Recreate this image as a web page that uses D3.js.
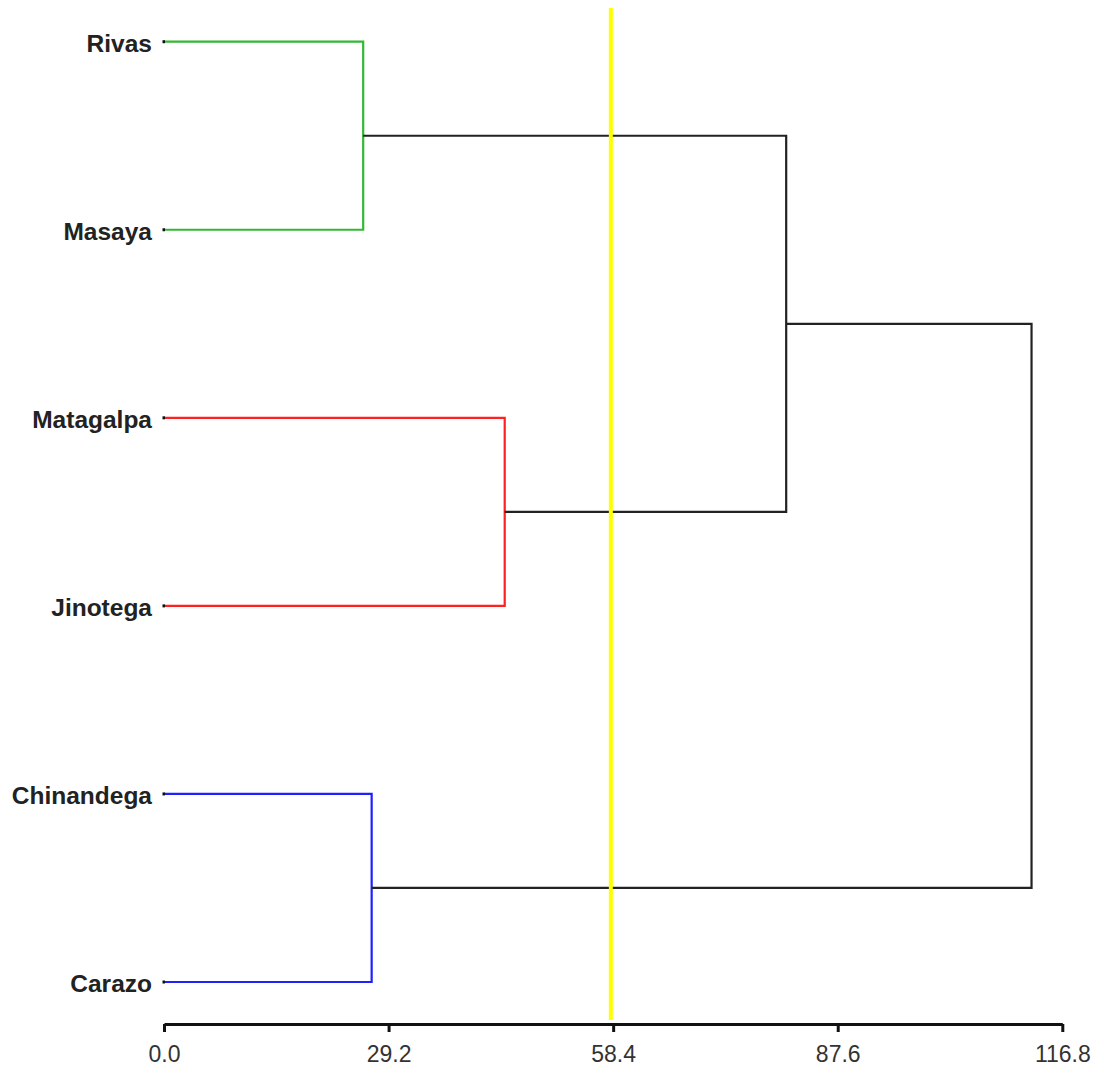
<!DOCTYPE html>
<html>
<head>
<meta charset="utf-8">
<script src="https://cdn.jsdelivr.net/npm/d3@7"></script>
<style>
  html, body { margin: 0; padding: 0; background: #fff; }
  svg { display: block; }
</style>
</head>
<body>
<svg id="chart" width="1104" height="1074"></svg>
<script>
// Leaf labels, top to bottom
const leaves = ["Rivas", "Masaya", "Matagalpa", "Jinotega", "Chinandega", "Carazo"];

// Merge steps: negative numbers are leaf indices (-1 = first leaf), positive refer to earlier merges
const mergeLeft   = [-1, -5, -3, 1, 4];
const mergeRight  = [-2, -6, -4, 3, 2];
const mergeHeight = [25.9, 27.0, 44.3, 80.9, 112.8];
// Colour of each merge (clusters below the cut get a colour)
const mergeColor  = ["#33b833", "#2020ff", "#ff2020", "#222222", "#222222"];

// Axis ticks and cut height
const tickValues = [0, 29.2, 58.4, 87.6, 116.8];
const cutHeight = 58.1;

const svg = d3.select("#chart");

const x = d3.scaleLinear().domain([0, 116.8]).range([164, 1062.3]);
const y = d3.scalePoint().domain(leaves).range([41.7, 982]);

// Compute node positions from merge table
function nodePos(ref) {
  if (ref < 0) {
    const name = leaves[-ref - 1];
    return { x: x(0), y: y(name) };
  }
  const i = ref - 1;
  const a = nodePos(mergeLeft[i]);
  const b = nodePos(mergeRight[i]);
  return { x: x(mergeHeight[i]), y: (a.y + b.y) / 2 };
}

const g = svg.append("g");

mergeHeight.forEach((h, i) => {
  const a = nodePos(mergeLeft[i]);
  const b = nodePos(mergeRight[i]);
  const hx = x(h);
  const path = d3.path();
  path.moveTo(a.x, a.y);
  path.lineTo(hx, a.y);
  path.lineTo(hx, b.y);
  path.lineTo(b.x, b.y);
  g.append("path")
    .attr("d", path.toString())
    .attr("fill", "none")
    .attr("stroke", mergeColor[i])
    .attr("stroke-width", 2.2);
});

// Small black marks at leaf ends
g.selectAll("line.leafmark")
  .data(leaves)
  .enter().append("line")
  .attr("class", "leafmark")
  .attr("x1", x(0) - 1.5).attr("x2", x(0) + 1)
  .attr("y1", d => y(d)).attr("y2", d => y(d))
  .attr("stroke", "#111").attr("stroke-width", 3);

// Leaf labels
g.selectAll("text.leaf")
  .data(leaves)
  .enter().append("text")
  .attr("class", "leaf")
  .attr("x", 152)
  .attr("y", d => y(d))
  .attr("dy", "0.4em")
  .attr("text-anchor", "end")
  .attr("font-family", "Liberation Sans, Arial, sans-serif")
  .attr("font-weight", "bold")
  .attr("font-size", 24.5)
  .attr("fill", "#222")
  .text(d => d);

// Cut line
svg.append("line")
  .attr("x1", x(cutHeight)).attr("x2", x(cutHeight))
  .attr("y1", 8).attr("y2", 1020)
  .attr("stroke", "#ffff00")
  .attr("stroke-width", 4);

// Bottom axis
const axis = d3.axisBottom(x)
  .tickValues(tickValues)
  .tickFormat(d3.format(".1f"))
  .tickSize(8)
  .tickSizeOuter(0)
  .tickPadding(14);

const ag = svg.append("g")
  .attr("transform", "translate(0,1024)")
  .call(axis);
ag.select(".domain").attr("stroke", "#111").attr("stroke-width", 3);
ag.selectAll(".tick line").attr("stroke", "#111").attr("stroke-width", 3);
ag.selectAll(".tick text")
  .attr("font-family", "Liberation Sans, Arial, sans-serif")
  .attr("font-size", 23)
  .attr("fill", "#333");
</script>
</body>
</html>
